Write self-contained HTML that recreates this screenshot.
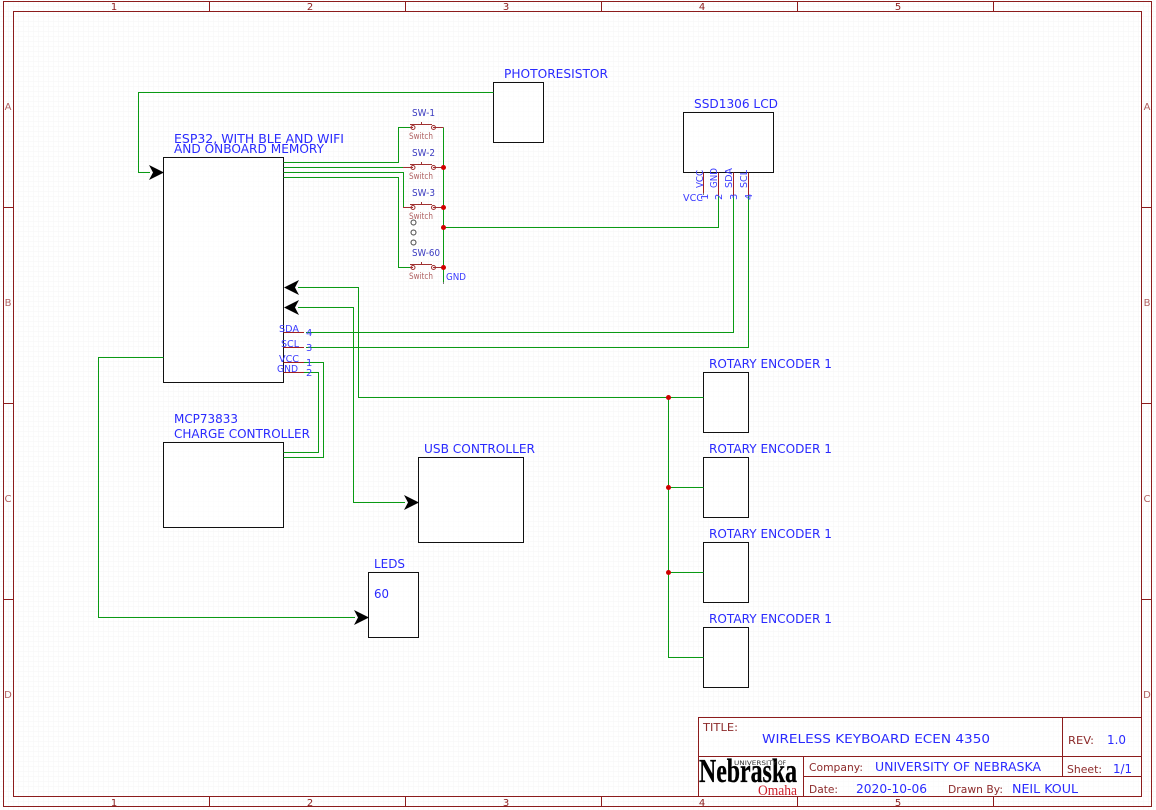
<!DOCTYPE html>
<html>
<head>
<meta charset="utf-8">
<style>
html,body{margin:0;padding:0;background:#fff;width:1156px;height:810px;overflow:hidden}
svg{display:block}
text{font-family:"DejaVu Sans","Liberation Sans",sans-serif}
.b{fill:#2a2aff;font-size:12px}
.s{fill:#3a3ac0;font-size:10px}
.p{fill:#3a3aff;font-size:10px}
.r{fill:#b06060;font-size:8.5px}
.d{fill:#8c2020;font-size:10px}
.t{fill:#8c2a2a;font-size:11px}
.w{fill:none;stroke:#0a9a14;stroke-width:1}
.k{fill:#fff;fill-opacity:.6;stroke:#111;stroke-width:1}
.m{fill:none;stroke:#8c1c1c;stroke-width:1}
.pin{fill:none;stroke:#a02020;stroke-width:1}
</style>
</head>
<body>
<svg width="1156" height="810" viewBox="0 0 1156 810" xmlns="http://www.w3.org/2000/svg">
<defs>
<pattern id="g" width="5" height="5" patternUnits="userSpaceOnUse" x="3.5" y="1.5">
<path d="M5 0H0V5" fill="none" stroke="#f5f5f5" stroke-width="1"/>
</pattern>
</defs>
<rect width="1156" height="810" fill="#fff"/>
<rect width="1156" height="810" fill="url(#g)"/>

<!-- Frame -->
<rect class="m" x="3.5" y="1.5" width="1148" height="805"/>
<rect class="m" x="13.5" y="11.5" width="1128" height="785"/>
<path class="m" d="M209.5 1.5V11.5M405.5 1.5V11.5M601.5 1.5V11.5M797.5 1.5V11.5M993.5 1.5V11.5M209.5 796.5V806.5M405.5 796.5V806.5M601.5 796.5V806.5M797.5 796.5V806.5M993.5 796.5V806.5M3.5 207.5H13.5M3.5 403.5H13.5M3.5 599.5H13.5M1141.5 207.5H1151.5M1141.5 403.5H1151.5M1141.5 599.5H1151.5"/>
<g class="d" text-anchor="middle">
<text x="114" y="10">1</text><text x="310" y="10">2</text><text x="506" y="10">3</text><text x="702" y="10">4</text><text x="898" y="10">5</text>
<text x="114" y="806">1</text><text x="310" y="806">2</text><text x="506" y="806">3</text><text x="702" y="806">4</text><text x="898" y="806">5</text>
</g>
<g fill="#b06060" font-size="10" text-anchor="middle">
<text x="8" y="110">A</text><text x="8" y="306">B</text><text x="8" y="502">C</text><text x="8" y="698">D</text>
<text x="1147" y="110">A</text><text x="1147" y="306">B</text><text x="1147" y="502">C</text><text x="1147" y="698">D</text>
</g>

<!-- Boxes -->
<rect class="k" x="163.5" y="157.5" width="120" height="225"/>
<rect class="k" x="163.5" y="442.5" width="120" height="85"/>
<rect class="k" x="493.5" y="82.5" width="50" height="60"/>
<rect class="k" x="683.5" y="112.5" width="90" height="60"/>
<rect class="k" x="418.5" y="457.5" width="105" height="85"/>
<rect class="k" x="368.5" y="572.5" width="50" height="65"/>
<rect class="k" x="703.5" y="372.5" width="45" height="60"/>
<rect class="k" x="703.5" y="457.5" width="45" height="60"/>
<rect class="k" x="703.5" y="542.5" width="45" height="60"/>
<rect class="k" x="703.5" y="627.5" width="45" height="60"/>

<!-- Wires -->
<g class="w">
<path d="M493.5 92.5H138.5V172.5H150"/>
<path d="M283.5 162.5H398.5V127.5H410"/>
<path d="M283.5 167.5H403"/>
<path d="M283.5 172.5H403.5V207.5H403"/>
<path d="M283.5 177.5H398.5V267.5H410"/>
<path d="M443.5 127.5V282"/>
<path d="M443.5 227.5H718.5V196"/>
<path d="M306 332.5H733.5V196"/>
<path d="M306 347.5H748.5V196"/>
<path d="M304 362.5H323.5V457.5H283.5"/>
<path d="M304 372.5H318.5V452.5H283.5"/>
<path d="M298 287.5H358.5V397.5H703.5"/>
<path d="M298 307.5H353.5V502.5H405"/>
<path d="M163.5 357.5H98.5V617.5H355"/>
<path d="M668.5 397.5V657.5H703.5"/>
<path d="M668.5 487.5H703.5M668.5 572.5H703.5"/>
</g>

<!-- Arrowheads -->
<g fill="#000">
<path d="M164 172.5L149 165L153 172.5L149 180Z"/>
<path d="M284 287.5L299 280L295 287.5L299 295Z"/>
<path d="M284 307.5L299 300L295 307.5L299 315Z"/>
<path d="M419 502.5L404 495L408 502.5L404 510Z"/>
<path d="M369 617.5L354 610L358 617.5L354 625Z"/>
</g>

<!-- Pins -->
<g class="pin">
<path d="M283.5 332.5H304M283.5 347.5H304M283.5 362.5H304M283.5 372.5H304"/>
<path d="M703.5 172.5V193M718.5 172.5V196M733.5 172.5V196M748.5 172.5V196"/>
</g>
<path d="M703.5 193V195M443.5 282V284" stroke="#777" fill="none"/>

<!-- Switches -->
<g fill="none" stroke="#a03030" stroke-width="1">
<path d="M410 127.5H413M433 127.5H443.5M410 124.5H432M421.5 124.5V122"/>
<path d="M403 167.5H413M433 167.5H443.5M410 164.5H432M421.5 164.5V162"/>
<path d="M403 207.5H413M433 207.5H443.5M410 204.5H432M421.5 204.5V202"/>
<path d="M410 267.5H413M433 267.5H443.5M410 264.5H432M421.5 264.5V262"/>
<circle cx="413" cy="127.5" r="2"/><circle cx="433.5" cy="127.5" r="2"/>
<circle cx="413" cy="167.5" r="2"/><circle cx="433.5" cy="167.5" r="2"/>
<circle cx="413" cy="207.5" r="2"/><circle cx="433.5" cy="207.5" r="2"/>
<circle cx="413" cy="267.5" r="2"/><circle cx="433.5" cy="267.5" r="2"/>
</g>
<g fill="none" stroke="#444" stroke-width="1">
<circle cx="413.5" cy="222.5" r="2.5"/><circle cx="413.5" cy="232.5" r="2.5"/><circle cx="413.5" cy="242.5" r="2.5"/>
</g>
<g class="s">
<text x="412" y="116" textLength="23" lengthAdjust="spacingAndGlyphs">SW-1</text>
<text x="412" y="156" textLength="23" lengthAdjust="spacingAndGlyphs">SW-2</text>
<text x="412" y="196" textLength="23" lengthAdjust="spacingAndGlyphs">SW-3</text>
<text x="412" y="256" textLength="28" lengthAdjust="spacingAndGlyphs">SW-60</text>
</g>
<g class="r">
<text x="409" y="139" textLength="24" lengthAdjust="spacingAndGlyphs">Switch</text>
<text x="409" y="179" textLength="24" lengthAdjust="spacingAndGlyphs">Switch</text>
<text x="409" y="219" textLength="24" lengthAdjust="spacingAndGlyphs">Switch</text>
<text x="409" y="279" textLength="24" lengthAdjust="spacingAndGlyphs">Switch</text>
</g>
<text class="p" x="446" y="280" textLength="20" lengthAdjust="spacingAndGlyphs">GND</text>

<!-- Junctions -->
<g fill="#d00000">
<circle cx="443.5" cy="167.5" r="2.5"/><circle cx="443.5" cy="207.5" r="2.5"/><circle cx="443.5" cy="227.5" r="2.5"/><circle cx="443.5" cy="267.5" r="2.5"/>
<circle cx="668.5" cy="397.5" r="2.5"/><circle cx="668.5" cy="487.5" r="2.5"/><circle cx="668.5" cy="572.5" r="2.5"/>
</g>

<!-- Labels -->
<g class="b">
<text x="174" y="143" textLength="170" lengthAdjust="spacingAndGlyphs">ESP32, WITH BLE AND WIFI</text>
<text x="174" y="153" textLength="150" lengthAdjust="spacingAndGlyphs">AND ONBOARD MEMORY</text>
<text x="504" y="78" textLength="104" lengthAdjust="spacingAndGlyphs">PHOTORESISTOR</text>
<text x="694" y="108" textLength="84" lengthAdjust="spacingAndGlyphs">SSD1306 LCD</text>
<text x="174" y="423" textLength="64" lengthAdjust="spacingAndGlyphs">MCP73833</text>
<text x="174" y="438" textLength="136" lengthAdjust="spacingAndGlyphs">CHARGE CONTROLLER</text>
<text x="424" y="453" textLength="111" lengthAdjust="spacingAndGlyphs">USB CONTROLLER</text>
<text x="374" y="568" textLength="31" lengthAdjust="spacingAndGlyphs">LEDS</text>
<text x="374" y="598" textLength="15" lengthAdjust="spacingAndGlyphs">60</text>
<text x="709" y="368" textLength="123" lengthAdjust="spacingAndGlyphs">ROTARY ENCODER 1</text>
<text x="709" y="453" textLength="123" lengthAdjust="spacingAndGlyphs">ROTARY ENCODER 1</text>
<text x="709" y="538" textLength="123" lengthAdjust="spacingAndGlyphs">ROTARY ENCODER 1</text>
<text x="709" y="623" textLength="123" lengthAdjust="spacingAndGlyphs">ROTARY ENCODER 1</text>
</g>
<g class="p">
<text x="279" y="332" textLength="20" lengthAdjust="spacingAndGlyphs">SDA</text>
<text x="281" y="347" textLength="18" lengthAdjust="spacingAndGlyphs">SCL</text>
<text x="279" y="362" textLength="20" lengthAdjust="spacingAndGlyphs">VCC</text>
<text x="277" y="372" textLength="21" lengthAdjust="spacingAndGlyphs">GND</text>
<text x="306" y="336">4</text><text x="306" y="351">3</text><text x="306" y="366">1</text><text x="306" y="376">2</text>
<text x="683" y="201" textLength="20" lengthAdjust="spacingAndGlyphs">VCC</text>
<text transform="translate(708 200) rotate(-90)">1</text>
<text transform="translate(722 200) rotate(-90)">2</text>
<text transform="translate(737 200) rotate(-90)">3</text>
<text transform="translate(752 200) rotate(-90)">4</text>
<text transform="translate(703 188) rotate(-90)" textLength="18" lengthAdjust="spacingAndGlyphs">VCC</text>
<text transform="translate(717 188) rotate(-90)" textLength="20" lengthAdjust="spacingAndGlyphs">GND</text>
<text transform="translate(732 188) rotate(-90)" textLength="20" lengthAdjust="spacingAndGlyphs">SDA</text>
<text transform="translate(747 188) rotate(-90)" textLength="18" lengthAdjust="spacingAndGlyphs">SCL</text>
</g>

<!-- Title block -->
<rect x="698.5" y="717.5" width="443" height="79" fill="#fff" fill-opacity="0.5"/>
<rect x="698.5" y="717.5" width="443" height="79" fill="none" stroke="#8c1c1c" stroke-width="1"/>
<path class="m" d="M698.5 756.5H1141.5M803.5 776.5H1141.5M1062.5 717.5V776.5M803.5 756.5V796.5"/>
<text class="t" x="703" y="731" textLength="35" lengthAdjust="spacingAndGlyphs">TITLE:</text>
<text class="b" x="762" y="743" textLength="228" lengthAdjust="spacingAndGlyphs">WIRELESS KEYBOARD ECEN 4350</text>
<text class="t" x="1068" y="744" textLength="26" lengthAdjust="spacingAndGlyphs">REV:</text>
<text class="b" x="1107" y="744" textLength="19" lengthAdjust="spacingAndGlyphs">1.0</text>
<text class="t" x="809" y="771" textLength="54" lengthAdjust="spacingAndGlyphs">Company:</text>
<text class="b" x="875" y="771" textLength="166" lengthAdjust="spacingAndGlyphs">UNIVERSITY OF NEBRASKA</text>
<text class="t" x="1067" y="773" textLength="35" lengthAdjust="spacingAndGlyphs">Sheet:</text>
<text class="b" x="1113" y="773" textLength="19" lengthAdjust="spacingAndGlyphs">1/1</text>
<text class="t" x="809" y="793" textLength="29" lengthAdjust="spacingAndGlyphs">Date:</text>
<text class="b" x="856" y="793" textLength="71" lengthAdjust="spacingAndGlyphs">2020-10-06</text>
<text class="t" x="948" y="793" textLength="55" lengthAdjust="spacingAndGlyphs">Drawn By:</text>
<text class="b" x="1012" y="793" textLength="66" lengthAdjust="spacingAndGlyphs">NEIL KOUL</text>

<!-- Logo -->
<text x="699" y="782" style="font-family:'Liberation Serif',serif" font-size="34" font-weight="bold" fill="#000" stroke="#000" stroke-width="0.3" textLength="98" lengthAdjust="spacingAndGlyphs">Nebraska</text>
<text x="734" y="765" font-size="6.5" fill="#333" textLength="43" lengthAdjust="spacingAndGlyphs">UNIVERSITY</text>
<text x="778" y="765" font-size="6.5" fill="#333" textLength="8" lengthAdjust="spacingAndGlyphs">OF</text>
<text x="758" y="795" style="font-family:'Liberation Serif',serif" font-size="15" fill="#cc1f2a" textLength="39" lengthAdjust="spacingAndGlyphs">Omaha</text>
</svg>
</body>
</html>
